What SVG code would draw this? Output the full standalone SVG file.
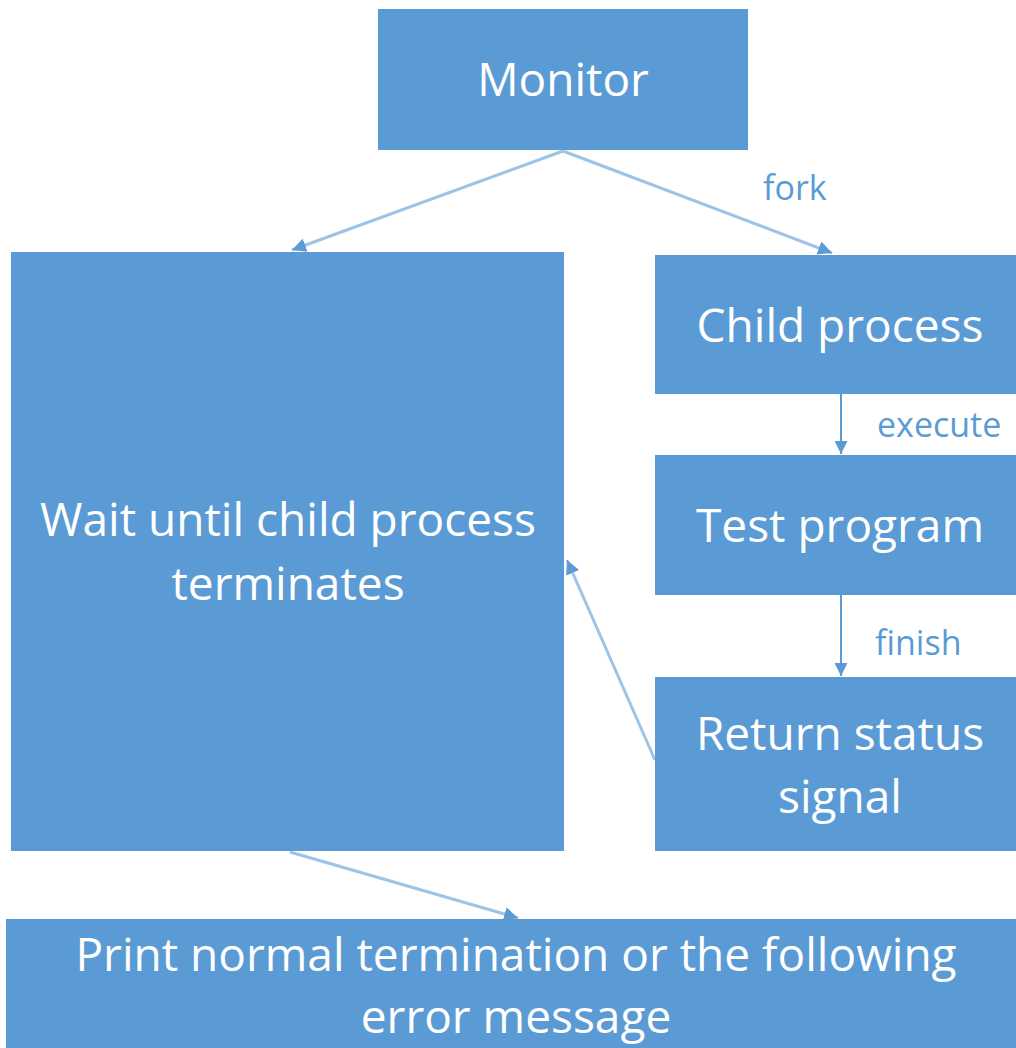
<svg xmlns="http://www.w3.org/2000/svg" width="1016" height="1048" viewBox="0 0 1016 1048">
<style>
.box{fill:#5B9BD5;}
.t{font-family:"Open Sans","Liberation Sans",sans-serif;fill:#FFFFFF;text-anchor:middle;font-size:46px;}
.lbl{font-family:"Open Sans","Liberation Sans",sans-serif;fill:#5B9BD5;font-size:34px;}
.c1{stroke:#9DC3E6;stroke-width:3;fill:none;}
.c2{stroke:#5B9BD5;stroke-width:2;fill:none;}
</style>
<defs>
<marker id="ah1" viewBox="0 0 10 10" refX="10" refY="5" markerWidth="14" markerHeight="14" markerUnits="userSpaceOnUse" orient="auto">
<path d="M0,0 L10,5 L0,10 z" fill="#5B9BD5"/>
</marker>
<marker id="ah2" viewBox="0 0 10 10" refX="10" refY="5" markerWidth="13" markerHeight="13" markerUnits="userSpaceOnUse" orient="auto">
<path d="M0,0 L10,5 L0,10 z" fill="#5B9BD5"/>
</marker>
</defs>
<rect width="1016" height="1048" fill="#FFFFFF"/>
<g id="connectors">
<line class="c1" x1="563" y1="151" x2="292" y2="250" marker-end="url(#ah1)"/>
<line class="c1" x1="563" y1="151" x2="832" y2="253" marker-end="url(#ah1)"/>
<line class="c2" x1="841" y1="394" x2="841" y2="454" marker-end="url(#ah2)"/>
<line class="c2" x1="841" y1="595" x2="841" y2="676" marker-end="url(#ah2)"/>
<line class="c1" x1="655" y1="760" x2="567" y2="560" marker-end="url(#ah1)"/>
<line class="c1" x1="290" y1="852" x2="518" y2="918" marker-end="url(#ah1)"/>
<text class="lbl" x="763" y="200">fork</text>
<text class="lbl" x="877" y="437">execute</text>
<text class="lbl" x="875" y="655">finish</text>
</g>
<g id="monitor"><rect class="box" x="378" y="9" width="370" height="141"/><text class="t" x="563" y="96">Monitor</text></g>
<g id="wait"><rect class="box" x="11" y="252" width="553" height="599"/><text class="t" x="288" y="536">Wait until child process</text><text class="t" x="288" y="600">terminates</text></g>
<g id="child"><rect class="box" x="655" y="255" width="361" height="139"/><text class="t" x="840" y="342">Child process</text></g>
<g id="test"><rect class="box" x="655" y="455" width="361" height="140"/><text class="t" x="840" y="542">Test program</text></g>
<g id="return"><rect class="box" x="655" y="677" width="361" height="174"/><text class="t" x="840" y="750">Return status</text><text class="t" x="840" y="813">signal</text></g>
<g id="print"><rect class="box" x="6" y="919" width="1010" height="129"/><text class="t" x="516" y="971">Print normal termination or the following</text><text class="t" x="516" y="1033">error message</text></g>
</svg>
